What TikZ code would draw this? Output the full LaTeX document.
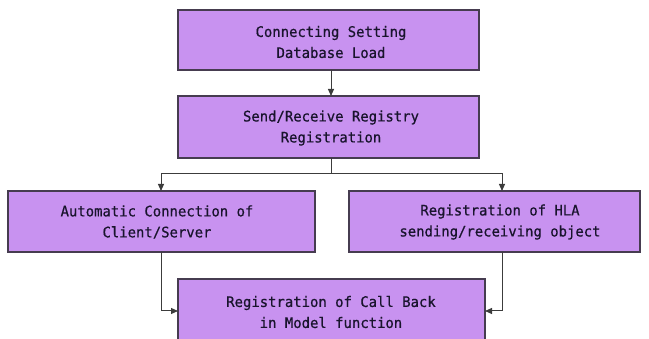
\documentclass[tikz,border=0pt]{standalone}
\usepackage{fontspec}
\setmonofont[FakeBold=0.6,FakeStretch=0.96]{DejaVu Sans Mono}
\usetikzlibrary{arrows.meta}
\definecolor{boxfill}{RGB}{200,146,240}
\definecolor{boxline}{RGB}{70,60,80}
\definecolor{wire}{RGB}{60,60,60}
\definecolor{ink}{RGB}{25,20,45}
\tikzset{
  stepbox/.style={draw=boxline, line width=1.1pt, fill=boxfill},
  label/.style={font=\ttfamily\fontsize{14.5}{21}\selectfont, align=center, text=ink},
  link/.style={draw=wire, line width=1pt, -{Triangle[length=7pt,width=6pt]}}
}
\begin{document}
\begin{tikzpicture}[x=1pt,y=-1pt]
\useasboundingbox (0,0) rectangle (649,339);
\clip (0,0) rectangle (649,339);
% boxes
\draw[stepbox] (178,10) rectangle (479,70);
\node[label] (b1) at (331,42) {Connecting Setting\\Database Load};
\draw[stepbox] (178,96) rectangle (479,158);
\node[label] (b2) at (331,128) {Send/Receive Registry\\Registration};
\draw[stepbox] (8,191) rectangle (315,252);
\node[label] (b3) at (157,222) {Automatic Connection of\\Client/Server};
\draw[stepbox] (349,191) rectangle (640,252);
\node[label] (b4) at (500,222) {Registration of HLA\\sending/receiving object};
\draw[stepbox] (178,279) rectangle (485,350);
\node[label] (b5) at (331,312) {Registration of Call Back\\in Model function};
% connection points
\coordinate (b1s) at (331,70);
\coordinate (b2n) at (331,96);
\coordinate (b2s) at (331,158);
\coordinate (split) at (331,174);
\coordinate (b3n) at (161,191);
\coordinate (b4n) at (502,191);
\coordinate (b3s) at (161,252);
\coordinate (b4s) at (502,252);
\coordinate (b5w) at (178,311);
\coordinate (b5e) at (485,311);
% connectors
\draw[link] (b1s) -- (b2n);
\draw[draw=wire, line width=1pt] (b2s) -- (split);
\draw[link] (split) -| (b3n);
\draw[link] (split) -| (b4n);
\draw[link] (b3s) |- (b5w);
\draw[link] (b4s) |- (b5e);
\end{tikzpicture}
\end{document}
